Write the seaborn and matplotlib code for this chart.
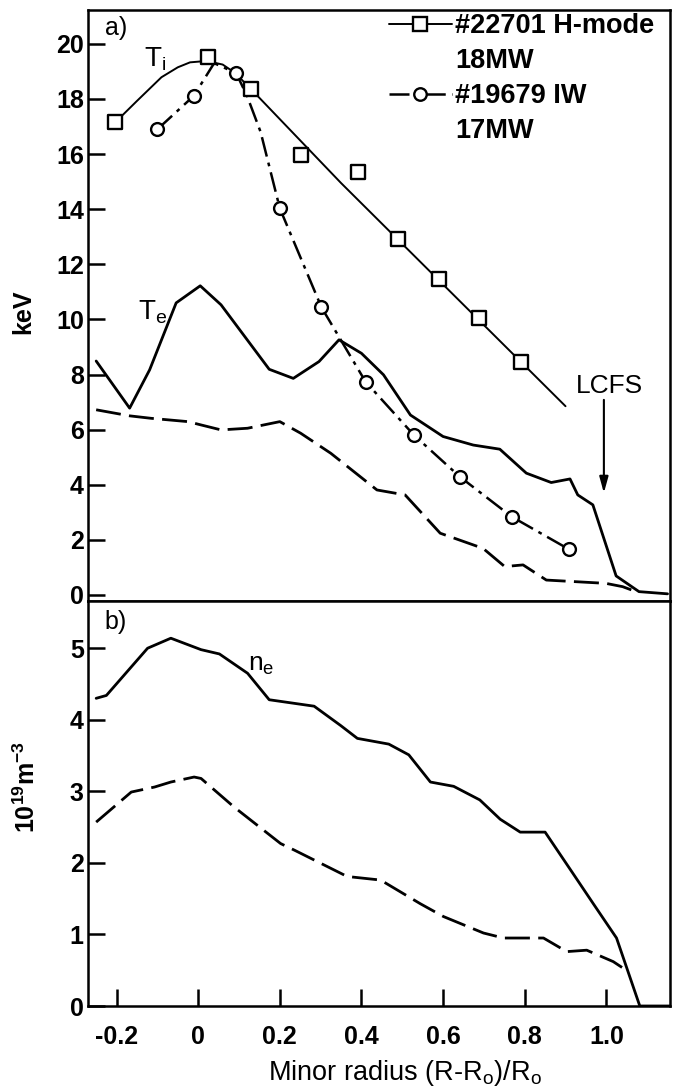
import matplotlib
matplotlib.use("Agg")
import matplotlib.pyplot as plt
from matplotlib.lines import Line2D
import seaborn as sns

# ---------------- data ----------------
# (a) ion temperature, #22701 H-mode 18MW: measured points and fitted profile
ti_hmode_x = [-0.203, 0.023, 0.129, 0.253, 0.392, 0.490, 0.589, 0.687, 0.791]
ti_hmode_y = [17.18, 19.52, 18.36, 15.97, 15.34, 12.91, 11.46, 10.04, 8.45]
ti_hmode_fit_x = [-0.20, -0.15, -0.09, -0.05, -0.02, 0.02, 0.06, 0.09, 0.13, 0.35, 0.90]
ti_hmode_fit_y = [17.2, 17.93, 18.79, 19.15, 19.33, 19.38, 19.25, 18.95, 18.35, 14.95, 6.85]

# (a) ion temperature, #19679 IW 17MW: measured points and connecting profile
ti_iw_x = [-0.100, -0.011, 0.093, 0.200, 0.302, 0.410, 0.528, 0.641, 0.768, 0.908]
ti_iw_y = [16.90, 18.11, 18.94, 14.03, 10.44, 7.74, 5.81, 4.29, 2.84, 1.66]
ti_iw_line_x = [-0.100, -0.011, 0.039, 0.093, 0.120, 0.153, 0.200, 0.302, 0.410,
                0.528, 0.641, 0.768, 0.908]
ti_iw_line_y = [16.90, 18.11, 19.30, 18.94, 18.10, 16.80, 14.03, 10.44, 7.74,
                5.81, 4.29, 2.84, 1.66]

# (a) electron temperature, H-mode (solid) and IW (dashed)
te_hmode_x = [-0.25, -0.168, -0.119, -0.054, 0.005, 0.056, 0.174, 0.233, 0.296, 0.345,
              0.40, 0.454, 0.52, 0.60, 0.674, 0.739, 0.804, 0.865, 0.911, 0.93, 0.967,
              1.024, 1.08, 1.15]
te_hmode_y = [8.49, 6.78, 8.17, 10.6, 11.22, 10.53, 8.19, 7.86, 8.47, 9.26,
              8.77, 7.99, 6.53, 5.75, 5.44, 5.29, 4.42, 4.08, 4.21, 3.63, 3.27,
              0.69, 0.12, 0.04]
te_iw_x = [-0.25, -0.168, -0.115, -0.025, 0.007, 0.056, 0.121, 0.20, 0.251, 0.325,
           0.438, 0.507, 0.593, 0.698, 0.751, 0.796, 0.853, 0.999, 1.04, 1.08]
te_iw_y = [6.72, 6.50, 6.41, 6.29, 6.17, 5.99, 6.05, 6.29, 5.87, 5.14,
           3.81, 3.63, 2.24, 1.69, 1.03, 1.09, 0.54, 0.42, 0.30, 0.08]

# (b) electron density, H-mode (solid) and IW (dashed)
ne_hmode_x = [-0.25, -0.225, -0.124, -0.067, 0.007, 0.052, 0.121, 0.174, 0.284, 0.349,
              0.39, 0.467, 0.516, 0.569, 0.626, 0.69, 0.74, 0.789, 0.85, 0.915,
              0.968, 1.025, 1.082, 1.156]
ne_hmode_y = [4.30, 4.34, 5.00, 5.14, 4.98, 4.92, 4.65, 4.28, 4.19, 3.92,
              3.74, 3.66, 3.51, 3.13, 3.07, 2.88, 2.61, 2.43, 2.43, 1.88,
              1.43, 0.95, 0.0, 0.0]
ne_iw_x = [-0.25, -0.164, -0.107, -0.067, -0.01, 0.007, 0.088, 0.202, 0.235, 0.365,
           0.447, 0.544, 0.601, 0.699, 0.748, 0.846, 0.903, 0.952, 1.017, 1.054]
ne_iw_y = [2.57, 2.99, 3.06, 3.13, 3.20, 3.18, 2.78, 2.27, 2.18, 1.81,
           1.76, 1.43, 1.25, 1.02, 0.95, 0.95, 0.76, 0.78, 0.62, 0.48]

x_ticks = [-0.2, 0, 0.2, 0.4, 0.6, 0.8, 1.0]
x_tick_labels = ["-0.2", "0", "0.2", "0.4", "0.6", "0.8", "1.0"]
ya_ticks = [0, 2, 4, 6, 8, 10, 12, 14, 16, 18, 20]
yb_ticks = [0, 1, 2, 3, 4, 5]
legend_labels = ["#22701 H-mode", "18MW", "#19679 IW", "17MW"]

# ---------------- style ----------------
sns.set_theme(style="ticks")
plt.rcParams.update({
    "font.family": ["Liberation Sans", "DejaVu Sans"],
    "font.weight": "bold",
    "axes.unicode_minus": False,
    "mathtext.default": "regular",
    "text.color": "black",
    "axes.labelcolor": "black",
    "axes.edgecolor": "black",
    "xtick.color": "black",
    "ytick.color": "black",
})

LW = 2.0
DASHED = (0, (9, 3))
DASHDOT = (0, (8, 2.5, 1.5, 2.5))

W, H = 675, 1091
fig = plt.figure(figsize=(W / 100, H / 100), dpi=100)


def box(left, top, right, bottom):
    return [left / W, 1 - bottom / H, (right - left) / W, (bottom - top) / H]


ax_a = fig.add_axes(box(88, 10, 670, 601))
ax_b = fig.add_axes(box(88, 601, 670, 1006))

# ---------------- panel (a) ----------------
line_kw = dict(color="black", sort=False, estimator=None, legend=False)
sns.lineplot(x=te_hmode_x, y=te_hmode_y, ax=ax_a, lw=LW, **line_kw)
sns.lineplot(x=te_iw_x, y=te_iw_y, ax=ax_a, lw=LW, linestyle=DASHED, **line_kw)
sns.lineplot(x=ti_hmode_fit_x, y=ti_hmode_fit_y, ax=ax_a, lw=1.4, **line_kw)
sns.lineplot(x=ti_iw_line_x, y=ti_iw_line_y, ax=ax_a, lw=1.8, linestyle=DASHDOT, **line_kw)
sns.scatterplot(x=ti_hmode_x, y=ti_hmode_y, ax=ax_a, marker="s", s=100,
                color="white", edgecolor="black", linewidth=1.7, zorder=5, legend=False)
sns.scatterplot(x=ti_iw_x, y=ti_iw_y, ax=ax_a, marker="o", s=85,
                color="white", edgecolor="black", linewidth=1.7, zorder=5, legend=False)

ax_a.set_xlim(-0.27, 1.156)
ax_a.set_ylim(-0.22, 21.23)
ax_a.set_yticks(ya_ticks)
ax_a.set_yticklabels([str(v) for v in ya_ticks])
ax_a.set_xticks(x_ticks)
ax_a.tick_params(axis="x", bottom=False, labelbottom=False)
ax_a.set_ylabel("keV", fontsize=18, fontweight="bold")
ax_a.yaxis.set_label_coords(-0.091, 0.49)

ax_a.text(0.03, 0.969, "a)", transform=ax_a.transAxes, fontsize=18,
          fontweight="normal", va="center", ha="left")
ax_a.text(-0.133, 19.17, "T$_{i}$", fontsize=20, fontweight="normal",
          va="baseline", ha="left")
ax_a.text(-0.147, 9.98, "T$_{e}$", fontsize=20, fontweight="normal",
          va="baseline", ha="left")
ax_a.text(1.007, 7.33, "LCFS", fontsize=19, fontweight="normal",
          va="baseline", ha="center")
ax_a.annotate("", xy=(0.994, 3.70), xytext=(0.994, 7.08),
              arrowprops=dict(arrowstyle="-|>,head_length=0.8,head_width=0.22",
                              color="black", lw=1.5, shrinkA=0, shrinkB=0))

handles = [
    Line2D([], [], color="black", lw=1.4, marker="s", ms=9.5,
           mfc="white", mec="black", mew=1.7),
    Line2D([], [], linestyle="none"),
    Line2D([], [], color="black", lw=1.8, linestyle=DASHDOT, marker="o", ms=9,
           mfc="white", mec="black", mew=1.7),
    Line2D([], [], linestyle="none"),
]
ax_a.legend(handles, legend_labels, loc="upper right", bbox_to_anchor=(0.978, 1.0),
            frameon=False, fontsize=19.5, handlelength=2.3, handletextpad=0.12,
            labelspacing=0.33, borderaxespad=0.12, borderpad=0.0)

# ---------------- panel (b) ----------------
sns.lineplot(x=ne_hmode_x, y=ne_hmode_y, ax=ax_b, lw=LW, **line_kw)
sns.lineplot(x=ne_iw_x, y=ne_iw_y, ax=ax_b, lw=LW, linestyle=DASHED, **line_kw)

ax_b.set_xlim(-0.27, 1.156)
ax_b.set_ylim(0, 5.66)
ax_b.set_yticks(yb_ticks)
ax_b.set_yticklabels([str(v) for v in yb_ticks])
ax_b.set_xticks(x_ticks)
ax_b.set_xticklabels(x_tick_labels)
ax_b.set_ylabel("10$^{19}$m$^{-3}$", fontsize=18, fontweight="bold")
ax_b.yaxis.set_label_coords(-0.083, 0.54)
ax_b.set_xlabel("Minor radius (R-R$_{o}$)/R$_{o}$", fontsize=19.5,
                fontweight="normal")
ax_b.xaxis.set_label_coords(0.545, -0.165)
ax_b.xaxis.label.set_verticalalignment("center")

ax_b.text(0.029, 0.948, "b)", transform=ax_b.transAxes, fontsize=18,
          fontweight="normal", va="center", ha="left")
ax_b.text(0.121, 4.69, "n$_{e}$", fontsize=19, fontweight="normal",
          va="baseline", ha="left")

for ax in (ax_a, ax_b):
    for sp in ax.spines.values():
        sp.set_visible(True)
        sp.set_linewidth(1.8)
        sp.set_color("black")
    ax.tick_params(axis="y", direction="in", length=12, width=1.8,
                   labelsize=18, pad=3)
    ax.set_facecolor("white")
ax_b.tick_params(axis="x", direction="in", length=12, width=1.8,
                 labelsize=18, pad=14)

fig.savefig("out.png", dpi=100, facecolor="white")
